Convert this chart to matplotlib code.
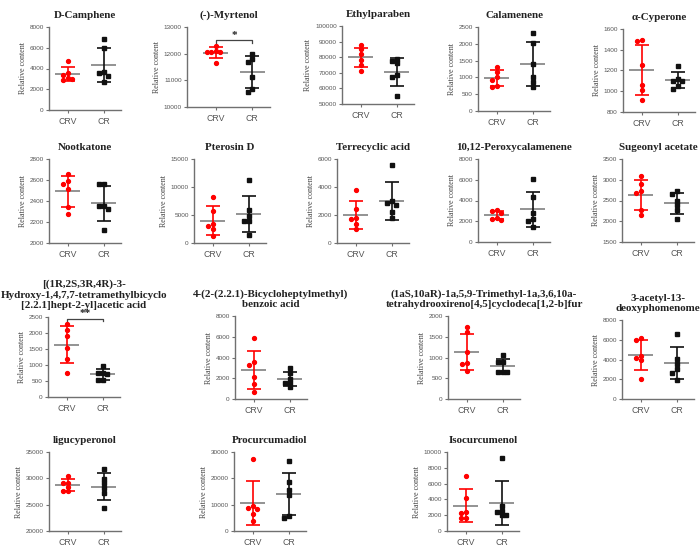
import matplotlib.pyplot as plt
import numpy as np

plt.rcParams['font.family'] = ['Liberation Serif', 'DejaVu Serif']

compounds = [
    'D-Camphene', '(-)-Myrtenol', 'Ethylparaben', 'Calamenene', '\u03b1-Cyperone',
    'Nootkatone', 'Pterosin D', 'Terrecyclic acid', '10,12-Peroxycalamenene', 'Sugeonyl acetate',
    '[(1R,2S,3R,4R)-3-\nHydroxy-1,4,7,7-tetramethylbicyclo\n[2.2.1]hept-2-yl]acetic acid',
    '4-(2-(2.2.1)-Bicycloheptylmethyl)\nbenzoic acid',
    '(1aS,10aR)-1a,5,9-Trimethyl-1a,3,6,10a-\ntetrahydrooxireno[4,5]cyclodeca[1,2-b]fur',
    '3-acetyl-13-\ndeoxyphomenome',
    'ligucyperonol', 'Procurcumadiol', 'Isocurcumenol',
]

groups = ['CRV', 'CR']

crv_values = [
    [4750, 3600, 3350, 3100, 3000, 2850],
    [12300, 12080, 12070, 12100, 12060, 11650],
    [88000, 85000, 82000, 78000, 75000, 71000],
    [1300, 1150, 1020, 930, 730, 720],
    [1490, 1480, 1250, 1065, 1015, 920],
    [2660, 2590, 2565, 2510, 2340, 2280],
    [8200, 5800, 3350, 3000, 2500, 1200],
    [3800, 2450, 1760, 1700, 1380, 1020],
    [3080, 2980, 2750, 2350, 2250, 2150],
    [3080, 2900, 2740, 2680, 2265, 2145],
    [2290, 2090, 1900, 1540, 1190, 765],
    [5850, 3530, 3280, 2090, 1450, 710],
    [1730, 1605, 1140, 860, 835, 675],
    [6200, 5930, 4400, 4170, 3900, 2050],
    [30450, 29200, 29150, 28300, 27550, 27500],
    [27300, 9600, 8800, 8400, 6400, 3700],
    [7000, 4150, 2350, 2300, 1700, 1650],
]

cr_values = [
    [6800, 5950, 3650, 3550, 3300, 2700],
    [12000, 11800, 11680, 11130, 10680, 10570],
    [78800, 77500, 76000, 68300, 67000, 55300],
    [2320, 2020, 1390, 1020, 870, 700],
    [1245, 1115, 1100, 1095, 1050, 1025],
    [2560, 2560, 2355, 2355, 2325, 2120],
    [11200, 5850, 4850, 3900, 3850, 1500],
    [5600, 3000, 2830, 2740, 2190, 1770],
    [6060, 4300, 2750, 2200, 2040, 1460],
    [2740, 2665, 2495, 2400, 2280, 2055],
    [980, 745, 740, 715, 540, 535],
    [2950, 2550, 1950, 1550, 1500, 1150],
    [1060, 885, 880, 645, 640, 640],
    [6570, 4080, 3500, 3030, 2650, 1950],
    [31800, 29830, 29050, 28170, 27280, 24350],
    [26400, 18500, 15600, 13500, 5700, 5000],
    [9200, 3150, 2550, 2450, 2000, 2000],
]

# (min, max, step) of each y axis
y_scales = [
    (0, 8000, 2000), (10000, 13000, 1000), (50000, 100000, 10000), (0, 2500, 500), (800, 1600, 200),
    (2000, 2800, 200), (0, 15000, 5000), (0, 6000, 2000), (0, 8000, 2000), (1500, 3500, 500),
    (0, 2500, 500), (0, 8000, 2000), (0, 2000, 500), (0, 8000, 2000),
    (20000, 35000, 5000), (0, 30000, 10000), (0, 10000, 2000),
]

significance = {1: '*', 10: '**'}

# panel placement in pixels: left, top, bottom
W, H = 700, 549
panel_px = [
    (49, 27, 110), (187, 27, 107), (342, 26, 104), (478, 27, 111), (623, 29, 112),
    (49, 159, 243), (194, 159, 243), (337, 159, 243), (478, 159, 242), (622, 159, 242),
    (48, 317, 397), (235, 316, 399), (448, 316, 399), (622, 320, 399),
    (49, 452, 531), (234, 452, 531), (447, 452, 531),
]

group_colors = ['#ff0000', '#111111']
group_markers = ['o', 's']


def swarm_offsets(vals, px_per_unit, step=0.12, unit_px=36, diam=3.9):
    xs = np.zeros(len(vals))
    placed = []
    order = np.argsort(vals)[::-1]
    for k in order:
        yk = vals[k] * px_per_unit
        for c in [0, -1, 1, -2, 2, -3, 3]:
            xk = c * step * unit_px
            if all(np.hypot(xk - xp, yk - yp) >= diam for xp, yp in placed):
                break
        placed.append((xk, yk))
        xs[k] = c * step
    return xs


fig = plt.figure(figsize=(7, 5.49), dpi=100)

for i, name in enumerate(compounds):
    left, top, bottom = panel_px[i]
    width = 83 if i == 1 else 72
    ax = fig.add_axes([left / W, 1 - bottom / H, width / W, (bottom - top) / H])
    lo, hi, step = y_scales[i]
    ax.set_ylim(lo, hi)
    ax.set_xlim(-0.78 if i == 1 else -0.52, 1.48)
    px_per_unit = (bottom - top) / (hi - lo)

    for g, vals in enumerate([crv_values[i], cr_values[i]]):
        vals = np.array(vals, dtype=float)
        mean = vals.mean()
        sd = vals.std(ddof=1)
        xs = g + swarm_offsets(vals, px_per_unit)
        ax.plot(xs, vals, linestyle='none', marker=group_markers[g], ms=2.8,
                color=group_colors[g], zorder=3, clip_on=False)
        ax.hlines(mean, g - 0.34, g + 0.34, color='#808080', lw=1.2, zorder=2)
        ax.errorbar(g, mean, yerr=sd, color=group_colors[g], capsize=5,
                    elinewidth=1.2, capthick=1.2, fmt='none', zorder=2)

    if i in significance:
        span = hi - lo
        yb = lo + span * (0.833 if i == 1 else 0.98)
        ax.plot([0, 0, 1, 1], [yb - span * 0.028, yb, yb, yb - span * 0.028],
                color='#444444', lw=0.9, clip_on=False)
        ax.text(0.5, yb + span * 0.01, significance[i], ha='center', va='bottom',
                fontsize=8, fontweight='bold', color='#222222')

    ax.set_yticks(np.arange(lo, hi + step / 2, step))
    ax.set_xticks([0, 1])
    ax.set_xticklabels(groups, family='Liberation Sans', fontsize=6.3, color='#555555')
    for lab in ax.get_yticklabels():
        lab.set_family('Liberation Sans')
        lab.set_fontsize(4.6)
        lab.set_color('#555555')
    ax.tick_params(axis='both', length=2.2, width=0.8, color='#707070', pad=1.5)
    ax.tick_params(axis='x', pad=2.5)
    for side in ['top', 'right']:
        ax.spines[side].set_visible(False)
    for side in ['left', 'bottom']:
        ax.spines[side].set_color('#707070')
        ax.spines[side].set_linewidth(1.0)
    ax.set_ylabel('Relative content', fontsize=5.8, color='#444444', labelpad=2)
    ax.set_title(name, fontsize=7.9, fontweight='bold', color='#222222', pad=6.5,
                 linespacing=1.2)

fig.savefig('out.png', dpi=100)
